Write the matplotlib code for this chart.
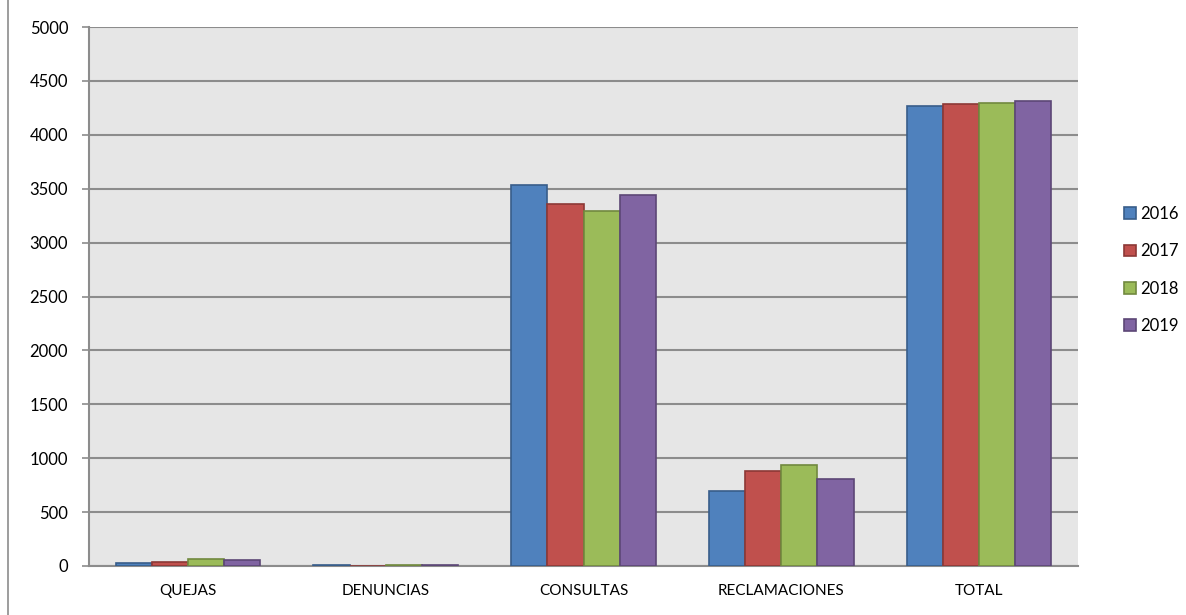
import matplotlib
matplotlib.use("Agg")
import matplotlib.pyplot as plt
from matplotlib.lines import Line2D
import numpy as np

categories = ["QUEJAS", "DENUNCIAS", "CONSULTAS", "RECLAMACIONES", "TOTAL"]
years = ["2016", "2017", "2018", "2019"]
v2016 = [25, 8, 3533, 700, 4266]
v2017 = [40, 0, 3360, 885, 4285]
v2018 = [62, 8, 3292, 935, 4297]
v2019 = [55, 8, 3444, 810, 4317]
yticks = [0, 500, 1000, 1500, 2000, 2500, 3000, 3500, 4000, 4500, 5000]

series = [v2016, v2017, v2018, v2019]
fills = ["#4F81BD", "#C0504D", "#9BBB59", "#8064A2"]
edges = ["#385D8A", "#8C3836", "#71893F", "#5C4776"]

plt.rcParams["font.family"] = ["Lato", "DejaVu Sans"]

W, H = 1186, 615
fig = plt.figure(figsize=(W / 100, H / 100), dpi=100)
fig.patch.set_facecolor("white")

# left edge of the chart frame
fig.add_artist(Line2D([8 / W, 8 / W], [0, 1], transform=fig.transFigure,
                      color="#8c8c8c", linewidth=1.2))

left, right, top, bottom = 89, 1078, 27, 566
ax = fig.add_axes([left / W, 1 - bottom / H, (right - left) / W, (bottom - top) / H])
ax.set_facecolor("#e6e6e6")

x = np.arange(len(categories))
bw = 0.183
for i, (vals, fc, ec, lab) in enumerate(zip(series, fills, edges, years)):
    ax.bar(x + (i - 1.5) * bw, vals, width=bw, color=fc, edgecolor=ec,
           linewidth=1.2, label=lab, zorder=3)

ax.set_xlim(-0.5, len(categories) - 0.5)
ax.set_ylim(0, 5000)
ax.set_yticks(yticks)
ax.set_yticklabels([str(t) for t in yticks], fontsize=12)
ax.set_xticks(x)
ax.set_xticklabels(categories, fontsize=11)
ax.yaxis.grid(True, color="#8c8c8c", linewidth=1.5, zorder=1)
ax.set_axisbelow(True)

for s in ["top", "right"]:
    ax.spines[s].set_visible(False)
for s in ["left", "bottom"]:
    ax.spines[s].set_color("#8c8c8c")
    ax.spines[s].set_linewidth(1.5)

ax.tick_params(axis="y", length=5, width=1.2, color="#8c8c8c", pad=10)
ax.tick_params(axis="x", length=0, pad=13)

leg = fig.legend(loc="center left", bbox_to_anchor=(1119 / W, 1 - 270 / H),
                 frameon=False, fontsize=12, handlelength=0.7, handleheight=0.7,
                 handletextpad=0.25, labelspacing=1.28, borderaxespad=0,
                 borderpad=0.3)

fig.savefig("out.png", dpi=100)
